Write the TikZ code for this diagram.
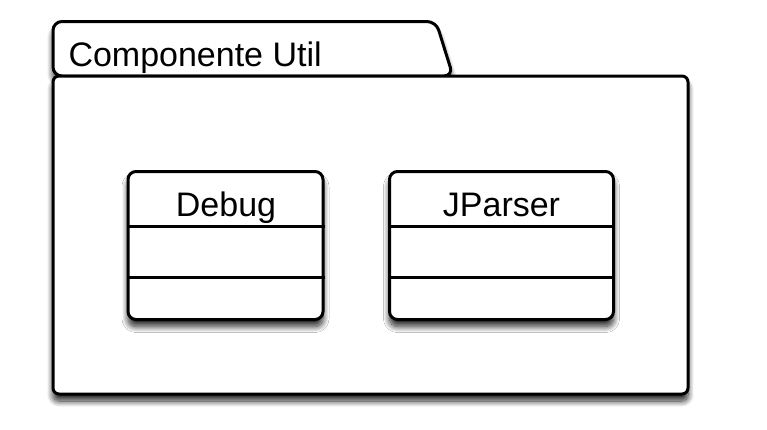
\documentclass[tikz,border=0pt]{standalone}
\usepackage{fontspec}
\setmainfont{Liberation Sans}
\usetikzlibrary{positioning, calc}
\usetikzlibrary{shadows.blur}

\begin{document}
\begin{tikzpicture}[x=1pt,y=-1pt,line width=3pt,line join=round]

	\tikzstyle{softshadow}=[blur shadow={shadow xshift=0pt,shadow yshift=-7pt,shadow blur radius=6pt,shadow blur steps=12,shadow opacity=85}]
	\tikzstyle{pkg-body}=[draw,fill=white,rounded corners=6pt,minimum width=635pt,minimum height=318pt,inner sep=0pt,softshadow]
	\tikzstyle{class-box}=[draw,fill=white,rounded corners=8pt,minimum height=148pt,inner sep=0pt,softshadow]
	\tikzstyle{pkg-label}=[font=\fontsize{34}{40}\selectfont,inner sep=0pt,anchor=base west]
	\tikzstyle{class-name}=[font=\fontsize{34}{40}\selectfont,inner sep=0pt,anchor=base]
	\useasboundingbox (0,0) rectangle (767,429);

	% package tab
	\coordinate (tabbase) at (53,76);
	\coordinate (tabend) at (453,76);
	\draw[fill=white,rounded corners=9pt,softshadow] (tabbase) -- (53,21.5) -- (436,21.5) -- (tabend) -- cycle;

	% package body
	\node[pkg-body] (util) at (370.5,235) {};
	\node[pkg-label] (utillabel) at (67,66) {Componente Util};

	% classes
	\node[class-box,minimum width=195pt] (debug) at (225.5,245.5) {};
	\node[class-box,minimum width=224pt] (jparser) at (501.5,245.5) {};
	\node[class-name] (debugname) at (226,216) {Debug};
	\node[class-name] (jparsername) at (501.5,216) {JParser};

	% compartments
	\foreach \c in {debug,jparser} {
		\draw ($(\c.north west)+(0,56)$) -- ($(\c.north east)+(0,56)$);
		\draw ($(\c.north west)+(0,107)$) -- ($(\c.north east)+(0,107)$);
	}
\end{tikzpicture}
\end{document}
